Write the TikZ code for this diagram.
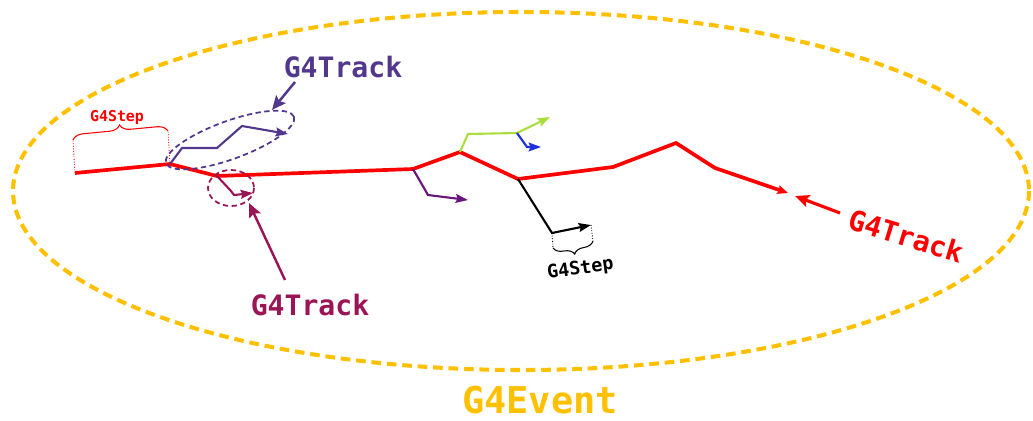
\documentclass[tikz,border=0pt]{standalone}
\usepackage{fontspec}
\newfontfamily\gmono{DejaVu Sans Mono}
\usetikzlibrary{arrows.meta,decorations.pathreplacing}
\definecolor{evyellow}{RGB}{255,192,0}
\definecolor{trkred}{RGB}{255,0,0}
\definecolor{trkpurple}{RGB}{82,56,140}
\definecolor{trkmaroon}{RGB}{155,20,85}
\definecolor{trkviolet}{RGB}{105,20,125}
\definecolor{trklime}{RGB}{170,222,60}
\definecolor{trkblue}{RGB}{30,50,220}
\tikzset{
  trk/.style={line width=1.2pt, line join=miter, -{Stealth[length=7pt,width=5pt,inset=1pt]}},
  mainpath/.style={line width=2.1pt, line join=miter, -{Stealth[length=6pt,width=5pt,inset=1pt]}},
  pointer/.style={line width=1.4pt, -{Stealth[length=8pt,width=7pt,inset=1.5pt]}},
  ring/.style={line width=1pt, dash pattern=on 3pt off 2pt},
  lbl/.style={font=\gmono\bfseries\fontsize{16}{16}\selectfont, inner sep=0pt},
  stepl/.style={font=\gmono\bfseries\fontsize{#1}{#1}\selectfont, inner sep=0pt, anchor=base},
  bracel/.style={line width=0.6pt, decorate, decoration={brace, amplitude=#1}},
  guide/.style={line width=0.5pt, densely dotted}
}
\begin{document}
\begin{tikzpicture}[x=0.02cm, y=-0.02cm]
\useasboundingbox (0,0) rectangle (1033,420);

% event ellipse
\draw[evyellow, line width=2.3pt, dash pattern=on 5.5pt off 3.3pt] (521,191) ellipse [x radius=508, y radius=179];
\node[font=\gmono\bfseries\fontsize{21}{21}\selectfont, text=evyellow, inner sep=0pt] (lbE) at (540,400) {G4Event};

% main red track
\coordinate (r0) at (75,173);
\coordinate (r1) at (170,164);
\coordinate (r2) at (217,176);
\coordinate (r3) at (413,169);
\coordinate (r4) at (460,152);
\coordinate (r5) at (518,179);
\coordinate (r6) at (613,167);
\coordinate (r7) at (676,143);
\coordinate (r8) at (715,168);
\coordinate (r9) at (788,193);
\draw[mainpath, trkred] (r0) -- (r1) -- (r2) -- (r3) -- (r4) -- (r5) -- (r6) -- (r7) -- (r8) -- (r9);

% purple secondary
\coordinate (p1) at (182,148);
\coordinate (p2) at (217,148);
\coordinate (p3) at (242,126);
\coordinate (p4) at (288,134);
\draw[trk, trkpurple] (r1) -- (p1) -- (p2) -- (p3) -- (p4);
\draw[ring, trkpurple, rotate around={20:(230,140)}] (230,140) ellipse [x radius=68, y radius=19];

% maroon secondary
\coordinate (m1) at (231,191);
\coordinate (m2) at (234,195);
\coordinate (m3) at (253,193);
\draw[trk, trkmaroon] (r2) -- (m1) -- (m2) -- (m3);
\draw[ring, trkmaroon] (231,188) ellipse [x radius=23, y radius=18];

% violet secondary
\coordinate (v1) at (428,195);
\coordinate (v2) at (468,200);
\draw[trk, trkviolet] (r3) -- (v1) -- (v2);

% lime secondary
\coordinate (g1) at (468,134);
\coordinate (g2) at (517,133);
\coordinate (g3) at (550,117);
\draw[trk, trklime] (r4) -- (g1) -- (g2) -- (g3);

% blue secondary
\coordinate (b1) at (527,147);
\coordinate (b2) at (541,147);
\draw[trk, trkblue] (g2) -- (b1) -- (b2);

% black secondary
\coordinate (k1) at (552,233);
\coordinate (k2) at (591,225);
\draw[trk, black] (r5) -- (k1) -- (k2);

% red step brace
\coordinate (sb0) at (73,140);
\coordinate (sb1) at (168,131);
\draw[guide, trkred] (r0) -- (sb0);
\draw[guide, trkred] (r1) -- (sb1);
\draw[bracel=6pt, trkred] (sb0) -- (sb1);
\node[stepl=8.5, text=trkred] (lbS1) at (117,121) {G4Step};

% black step brace
\coordinate (kb0) at (593,241);
\coordinate (kb1) at (553,248);
\draw[guide, black] (k1) -- (kb1);
\draw[guide, black] (k2) -- (kb0);
\draw[bracel=5.5pt, black] (kb0) -- (kb1);
\node[stepl=10.5, rotate=8] (lbS2) at (581,274) {G4Step};

% labels with pointers
\node[lbl, text=trkpurple] (lbP) at (343,67) {G4Track};
\coordinate (pa0) at (295,82);
\coordinate (pa1) at (272,110);
\draw[pointer, trkpurple] (pa0) -- (pa1);

\node[lbl, text=trkmaroon] (lbM) at (310,305) {G4Track};
\coordinate (ma0) at (285,280);
\coordinate (ma1) at (249,203);
\draw[pointer, trkmaroon] (ma0) -- (ma1);

\node[lbl, text=trkred, rotate=-17] (lbR) at (906,236) {G4Track};
\coordinate (ra0) at (840,213);
\coordinate (ra1) at (795,196);
\draw[pointer, trkred, line width=1.8pt] (ra0) -- (ra1);
\end{tikzpicture}
\end{document}
